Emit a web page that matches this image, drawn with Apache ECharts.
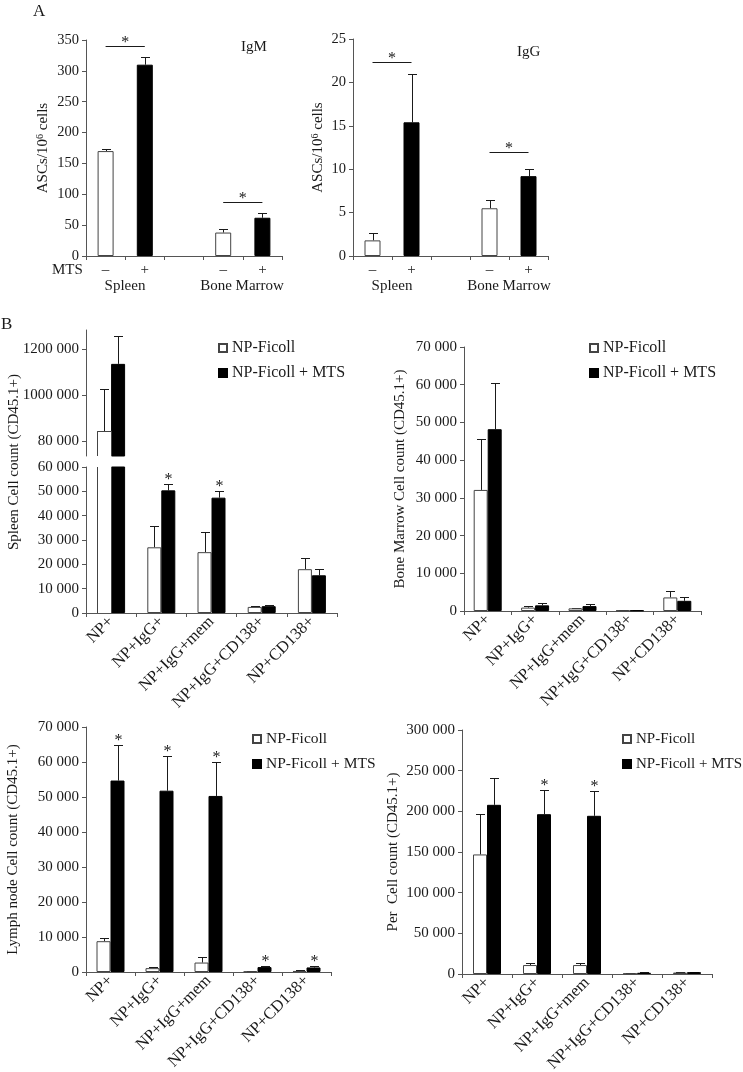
<!DOCTYPE html>
<html><head><meta charset="utf-8">
<script src="https://cdn.jsdelivr.net/npm/echarts@6/dist/echarts.min.js"></script>
<style>html,body{margin:0;padding:0;background:#fff}#c{width:743px;height:1072px}</style>
</head><body><div id="c"></div><script>
// ---------- Panel A data ----------
const aCategories = ['–', '+', '', '–', '+'];
const igmValues = [170, 310, null, 38, 62];
const igmErrTop = [173, 323, null, 43, 69];
const igmSig = [[0, 1, 341], [3, 4, 87]];
const iggValues = [1.8, 15.4, null, 5.5, 9.2];
const iggErrTop = [2.7, 21.0, null, 6.4, 10.0];
const iggSig = [[0, 1, 22.4], [3, 4, 12]];

// ---------- Panel B data ----------
const bCategories = ['NP+', 'NP+IgG+', 'NP+IgG+mem', 'NP+IgG+CD138+', 'NP+CD138+'];
const seriesNames = ['NP-Ficoll', 'NP-Ficoll + MTS'];

const spleenFicoll = [843000, 27000, 25000, 2500, 18000];
const spleenFicollErr = [1025000, 35600, 33200, 2900, 22600];
const spleenMTS = [1135000, 50400, 47400, 2800, 15500];
const spleenMTSErr = [1256000, 53200, 50100, 3200, 17900];
const spleenMTSStar = [false, true, true, false, false];
const spleenUpperTicks = [800000, 1000000, 1200000];
const spleenUpperTickLabels = ['80 000', '1000 000', '1200 000'];

const bmFicoll = [32100, 900, 700, 150, 3600];
const bmFicollErr = [45600, 1200, 900, 200, 5200];
const bmMTS = [48200, 1500, 1300, 150, 2700];
const bmMTSErr = [60500, 2000, 1800, 200, 3800];
const bmMTSStar = [false, false, false, false, false];

const lnFicoll = [8800, 1100, 2700, 100, 300];
const lnFicollErr = [9800, 1400, 4300, 150, 450];
const lnMTS = [54700, 51800, 50300, 1400, 1300];
const lnMTSErr = [64900, 61800, 60000, 1800, 1700];
const lnMTSStar = [true, true, true, true, true];

const perFicoll = [147000, 11000, 11000, 500, 1800];
const perFicollErr = [197000, 13500, 13500, 700, 2300];
const perMTS = [208000, 196500, 194500, 1500, 2300];
const perMTSErr = [241000, 226500, 224500, 2000, 2800];
const perMTSStar = [false, true, true, false, false];

// ---------- styling ----------
const FONT = '"Liberation Serif", "Times New Roman", serif';
const INK = '#1a1a1a';
const AXIS = '#555';
const BAR_W = 14;
const fmt = v => String(v).replace(/\B(?=(\d{3})+(?!\d))/g, ' ');

function errRender(offset) {
  return function (params, api) {
    const base = api.coord([api.value(0), api.value(1)]);
    const top = api.coord([api.value(0), api.value(2)]);
    const x = Math.round(base[0] + offset) + 0.5;
    const yt = Math.round(top[1]) + 0.5;
    const children = [
      {type: 'line', shape: {x1: x, y1: base[1], x2: x, y2: yt}, style: {stroke: INK, lineWidth: 1}},
      {type: 'line', shape: {x1: x - 4.5, y1: yt, x2: x + 4.5, y2: yt}, style: {stroke: INK, lineWidth: 1}}
    ];
    if (api.value(3)) {
      children.push({type: 'text', style: {text: '*', x: x, y: yt + 3, align: 'center', verticalAlign: 'bottom',
        fontSize: 16, fill: INK, fontFamily: FONT}});
    }
    return {type: 'group', children: children};
  };
}
// outline of a white bar that is cut by the axis break (only the edges that lie inside the grid)
function edgeRender(params, api) {
  const cs = params.coordSys;
  const c = api.coord([api.value(0), api.value(1)]);
  const b = api.coord([api.value(0), 0]);
  const x1 = Math.round(c[0] - BAR_W) + 0.5, x2 = Math.round(c[0]) + 0.5;
  const yTop = Math.max(c[1], cs.y), yBot = Math.min(b[1], cs.y + cs.height);
  const st = {stroke: '#444', lineWidth: 1};
  const children = [
    {type: 'line', shape: {x1: x1, y1: yTop, x2: x1, y2: yBot}, style: st},
    {type: 'line', shape: {x1: x2, y1: yTop, x2: x2, y2: yBot}, style: st}
  ];
  if (c[1] >= cs.y) {
    const y = Math.round(c[1]) + 0.5;
    children.push({type: 'line', shape: {x1: x1, y1: y, x2: x2, y2: y}, style: st});
  }
  return {type: 'group', children: children};
}
function sigRender(params, api) {
  const p1 = api.coord([api.value(0), api.value(2)]);
  const p2 = api.coord([api.value(1), api.value(2)]);
  const y = Math.round(p1[1]) + 0.5;
  return {type: 'group', children: [
    {type: 'line', shape: {x1: p1[0], y1: y, x2: p2[0], y2: y}, style: {stroke: INK, lineWidth: 1}},
    {type: 'text', style: {text: '*', x: (p1[0] + p2[0]) / 2, y: y + 4, align: 'center', verticalAlign: 'bottom',
      fontSize: 16, fill: INK, fontFamily: FONT}}
  ]};
}

const grids = [
  {left: 86, top: 40, width: 196, height: 216},
  {left: 353, top: 39, width: 195, height: 217},
  {left: 86, top: 330, width: 251, height: 126},
  {left: 86, top: 467, width: 251, height: 146},
  {left: 464, top: 347, width: 237, height: 264},
  {left: 86, top: 727, width: 245, height: 245},
  {left: 462, top: 730, width: 250, height: 244}
].map(g => Object.assign({outerBoundsMode: 'none', containLabel: false}, g));

const axisLine = {show: true, lineStyle: {color: AXIS, width: 1}};
const tickOut = {show: true, length: 4, inside: false, lineStyle: {color: AXIS}};
const labelStyle = {fontFamily: FONT, color: INK};

function catAxis(gridIndex, data, extra) {
  return Object.assign({
    type: 'category', gridIndex: gridIndex, data: data,
    axisLine: axisLine, axisTick: tickOut,
    axisLabel: Object.assign({interval: 0, fontSize: 15, margin: 7}, labelStyle)
  }, extra || {});
}
function bAxisX(gridIndex) {
  return catAxis(gridIndex, bCategories, {
    axisLabel: Object.assign({interval: 0, fontSize: 16.5, margin: 6, rotate: 45, hideOverlap: false}, labelStyle)
  });
}
function valAxis(gridIndex, max, interval, name, nameGap, extra) {
  return Object.assign({
    type: 'value', gridIndex: gridIndex, min: 0, max: max, interval: interval,
    axisLine: axisLine, axisTick: tickOut, splitLine: {show: false},
    axisLabel: Object.assign({fontSize: 15, margin: 7, formatter: fmt}, labelStyle),
    name: name, nameLocation: 'middle', nameGap: nameGap, nameRotate: 90,
    nameTextStyle: {fontFamily: FONT, fontSize: 15, color: INK}
  }, extra || {});
}

const whiteStyle = {color: '#fff', borderColor: '#444', borderWidth: 1};
const blackStyle = {color: '#000', borderColor: '#000', borderWidth: 1};

// Panel A series
function panelA(idx, values, errs, sig) {
  return [
    {type: 'bar', xAxisIndex: idx, yAxisIndex: idx, barWidth: 16, silent: true,
      data: aCategories.map((c, i) => values[i] == null ? '-' :
        {value: values[i], itemStyle: c === '–' ? whiteStyle : blackStyle})},
    {type: 'custom', xAxisIndex: idx, yAxisIndex: idx, renderItem: errRender(0), silent: true,
      encode: {x: 0, y: [1, 2]},
      data: aCategories.map((c, i) => [i, values[i], errs[i], 0]).filter(d => d[1] != null)},
    {type: 'custom', xAxisIndex: idx, yAxisIndex: idx, renderItem: sigRender, silent: true,
      encode: {x: [0, 1], y: 2}, data: sig}
  ];
}

// Panel B series
function panelB(idx, ficoll, ficollErr, mts, mtsErr, mtsStar, lo, hi) {
  const inRange = v => v >= lo && v <= hi;
  const cut = v => lo > 0 || v > hi;
  const out = [
    {type: 'bar', name: seriesNames[0], xAxisIndex: idx, yAxisIndex: idx, barWidth: BAR_W, barGap: '0%',
      itemStyle: whiteStyle, silent: true,
      data: ficoll.map(v => v < lo ? '-' : (cut(v) ? {value: v, itemStyle: {borderWidth: 0}} : v))},
    {type: 'bar', name: seriesNames[1], xAxisIndex: idx, yAxisIndex: idx, barWidth: BAR_W, barGap: '0%',
      itemStyle: blackStyle, silent: true, data: mts.map(v => v >= lo ? v : '-')},
    {type: 'custom', xAxisIndex: idx, yAxisIndex: idx, renderItem: errRender(-BAR_W / 2), silent: true,
      encode: {x: 0, y: [1, 2]},
      data: ficoll.map((v, i) => [i, v, ficollErr[i], 0]).filter(d => inRange(d[1]))},
    {type: 'custom', xAxisIndex: idx, yAxisIndex: idx, renderItem: errRender(BAR_W / 2), silent: true,
      encode: {x: 0, y: [1, 2]},
      data: mts.map((v, i) => [i, v, mtsErr[i], mtsStar[i] ? 1 : 0]).filter(d => inRange(d[1]))}
  ];
  const cutItems = ficoll.map((v, i) => [i, v]).filter(d => d[1] >= lo && cut(d[1]));
  if (cutItems.length) {
    out.push({type: 'custom', xAxisIndex: idx, yAxisIndex: idx, renderItem: edgeRender, silent: true,
      encode: {x: 0, y: 1}, z: 3, data: cutItems});
  }
  return out;
}

function legendAt(left, top, size) {
  return {data: seriesNames, orient: 'vertical', left: left, top: top, icon: 'rect', padding: 0,
    itemWidth: 8, itemHeight: 8, itemGap: 9, selectedMode: false,
    textStyle: {fontFamily: FONT, fontSize: size, color: INK, lineHeight: 16}};
}

const upperMin = 735000, upperMax = 1282000;

const option = {
  animation: false,
  backgroundColor: '#fff',
  grid: grids,
  legend: [legendAt(218, 340, 16), legendAt(589, 340, 16), legendAt(252, 731, 15.5), legendAt(622, 731, 15)],
  xAxis: [
    catAxis(0, aCategories),
    catAxis(1, aCategories),
    catAxis(2, bCategories, {show: false}),
    bAxisX(3), bAxisX(4), bAxisX(5), bAxisX(6)
  ],
  yAxis: [
    valAxis(0, 350, 50, 'ASCs/10{sup|6} cells', 35, {
      axisLabel: Object.assign({fontSize: 14.5, margin: 7}, labelStyle),
      nameTextStyle: {fontFamily: FONT, fontSize: 15, color: INK, rich: {sup: {fontSize: 10, verticalAlign: 'top', fontFamily: FONT, color: INK, padding: [0, 0, 6, 0]}}}}),
    valAxis(1, 25, 5, 'ASCs/10{sup|6} cells', 27, {
      axisLabel: Object.assign({fontSize: 14.5, margin: 7}, labelStyle),
      nameTextStyle: {fontFamily: FONT, fontSize: 15, color: INK, rich: {sup: {fontSize: 10, verticalAlign: 'top', fontFamily: FONT, color: INK, padding: [0, 0, 6, 0]}}}}),
    {type: 'value', gridIndex: 2, min: upperMin, max: upperMax, splitLine: {show: false},
      axisLine: axisLine,
      axisTick: Object.assign({customValues: spleenUpperTicks}, tickOut),
      axisLabel: Object.assign({fontSize: 15, margin: 7, customValues: spleenUpperTicks,
        formatter: v => spleenUpperTickLabels[spleenUpperTicks.indexOf(v)] || ''}, labelStyle)},
    valAxis(3, 60000, 10000, '', 0),
    valAxis(4, 70000, 10000, 'Bone Marrow Cell count (CD45.1+)', 56),
    valAxis(5, 70000, 10000, 'Lymph node Cell count (CD45.1+)', 65),
    valAxis(6, 300000, 50000, 'Per  Cell count (CD45.1+)', 61)
  ],
  series: [].concat(
    panelA(0, igmValues, igmErrTop, igmSig),
    panelA(1, iggValues, iggErrTop, iggSig),
    panelB(2, spleenFicoll, spleenFicollErr, spleenMTS, spleenMTSErr, spleenMTSStar, upperMin, upperMax),
    panelB(3, spleenFicoll, spleenFicollErr, spleenMTS, spleenMTSErr, spleenMTSStar, 0, 60000),
    panelB(4, bmFicoll, bmFicollErr, bmMTS, bmMTSErr, bmMTSStar, 0, 70000),
    panelB(5, lnFicoll, lnFicollErr, lnMTS, lnMTSErr, lnMTSStar, 0, 70000),
    panelB(6, perFicoll, perFicollErr, perMTS, perMTSErr, perMTSStar, 0, 300000)
  ),
  graphic: [
    {type: 'text', left: 33, top: 3, style: {text: 'A', fontFamily: FONT, fontSize: 17, fill: INK}},
    {type: 'text', left: 1, top: 316, style: {text: 'B', fontFamily: FONT, fontSize: 17, fill: INK}},
    {type: 'text', left: 241, top: 40, style: {text: 'IgM', fontFamily: FONT, fontSize: 15, fill: INK}},
    {type: 'text', left: 517, top: 45, style: {text: 'IgG', fontFamily: FONT, fontSize: 15, fill: INK}},
    {type: 'text', left: 52, top: 263, style: {text: 'MTS', fontFamily: FONT, fontSize: 15, fill: INK}},
    {type: 'text', x: 125, y: 286, style: {text: 'Spleen', align: 'center', verticalAlign: 'middle', fontFamily: FONT, fontSize: 15, fill: INK}},
    {type: 'text', x: 242, y: 286, style: {text: 'Bone Marrow', align: 'center', verticalAlign: 'middle', fontFamily: FONT, fontSize: 15, fill: INK}},
    {type: 'text', x: 392, y: 286, style: {text: 'Spleen', align: 'center', verticalAlign: 'middle', fontFamily: FONT, fontSize: 15, fill: INK}},
    {type: 'text', x: 509, y: 286, style: {text: 'Bone Marrow', align: 'center', verticalAlign: 'middle', fontFamily: FONT, fontSize: 15, fill: INK}},
    {type: 'text', x: 14, y: 462, rotation: Math.PI / 2, style: {text: 'Spleen Cell count (CD45.1+)', align: 'center', verticalAlign: 'middle', fontFamily: FONT, fontSize: 15, fill: INK}}
  ]
};

const chart = echarts.init(document.getElementById('c'), null, {renderer: 'canvas'});
chart.setOption(option);
</script></body></html>
